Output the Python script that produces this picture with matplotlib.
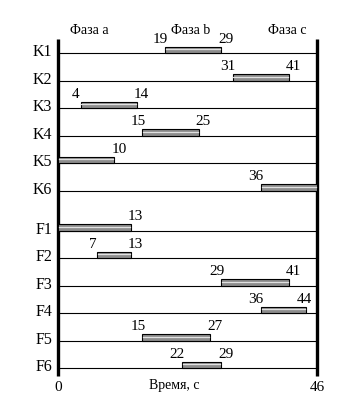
import matplotlib
matplotlib.use("Agg")
import matplotlib.pyplot as plt

rows = ["K1", "K2", "K3", "K4", "K5", "K6", "F1", "F2", "F3", "F4", "F5", "F6"]
starts = [19, 31, 4, 15, 0, 36, 0, 7, 29, 36, 15, 22]
ends = [29, 41, 14, 25, 10, 46, 13, 13, 41, 44, 27, 29]
phases = ["Фаза a", "Фаза b", "Фаза c"]
phase_x = [5.5, 23.5, 40.8]
T_END = 46

W, H = 358, 414
X0, X1 = 58, 317  # pixel positions of t=0 and t=46
sc = (X1 - X0) / T_END

plt.rcParams["font.family"] = ["Liberation Serif", "DejaVu Serif"]
fig = plt.figure(figsize=(W / 100, H / 100), dpi=100)
ax = fig.add_axes([0, 0, 1, 1])
ax.set_xlim(-X0 / sc, T_END + (W - X1) / sc)
ax.set_ylim(H, 0)
ax.axis("off")

# row baselines (pixels), extra gap between K and F groups
base = [54 + i * 27.5 + (12.5 if i >= 6 else 0) for i in range(len(rows))]
bh = 6.5

for y, nm, s, e in zip(base, rows, starts, ends):
    ax.plot([0, T_END], [y, y], color="k", lw=0.8)
    ax.barh(y - bh / 2, e - s, left=s, height=bh, color="#8c8c8c",
            edgecolor="k", lw=0.8, zorder=3)
    ax.plot([s + 0.15, e - 0.15], [y - bh / 2 - 0.6, y - bh / 2 - 0.6],
            color="#e0e0e0", lw=0.9, zorder=4)
    ax.text(-1.0, y - 1.5, nm, ha="right", va="center", fontsize=11.5)
    if s > 0:
        ax.text(s - 0.8, y - bh - 1.5, str(s), ha="center", va="bottom", fontsize=11)
    if e < T_END:
        ax.text(min(e + 0.8, T_END - 2.2), y - bh - 1.5, str(e),
                ha="center", va="bottom", fontsize=11)

for x in (0, T_END):
    ax.plot([x, x], [40, 377], color="k", lw=2.4, solid_capstyle="butt")

for px, ph in zip(phase_x, phases):
    ax.text(px, 30, ph, ha="center", va="center", fontsize=10)

ax.text(0, 388, "0", ha="center", va="center", fontsize=11)
ax.text(T_END, 388, "46", ha="center", va="center", fontsize=11)
ax.text(20.6, 386, "Время, с", ha="center", va="center", fontsize=10)

fig.savefig("out.png", dpi=100)
